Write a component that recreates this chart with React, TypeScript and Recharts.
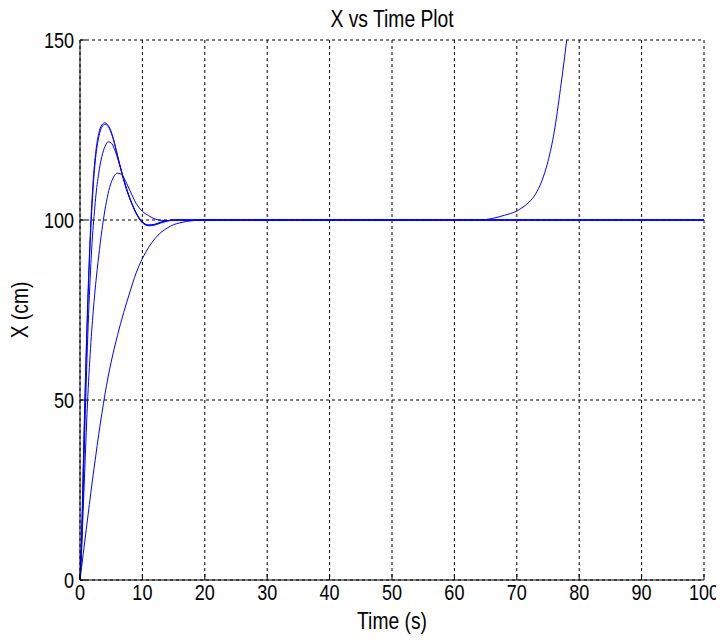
import React from 'react';
import { LineChart, Line, XAxis, YAxis, CartesianGrid } from 'recharts';

const times = [0, 0.25, 0.5, 0.75, 1, 1.25, 1.5, 1.75, 2, 2.25, 2.5, 3, 3.5, 4, 4.5, 5, 5.5, 6, 6.5, 7, 7.5, 8, 9, 10, 11, 12, 13, 14, 15, 16, 17, 18, 20, 25, 30, 40, 50, 60, 64, 65, 66, 67, 68, 69, 70, 71, 72, 73, 74, 75, 76, 77, 78, 79, 80, 90, 100];

const seriesA = [0, 12, 30, 48, 64, 78, 90, 100, 108, 114, 118.5, 124, 126.4, 127, 126.3, 124.5, 121.6, 118, 114.6, 111.3, 108.4, 106, 102, 99.5, 98.6, 98.8, 99.4, 99.8, 100, 100, 100, 100, 100, 100, 100, 100, 100, 100, 100, 100, 100, 100, 100, 100, 100, 100, 100, 100, 100, 100, 100, 100, 100, 100, 100, 100, 100];

const seriesB = [0, 9, 24, 40, 55, 68, 79, 88, 95.5, 101, 106, 113, 117.6, 120.4, 121.7, 121.4, 119.8, 117.3, 114.4, 111.4, 108.5, 106, 101.8, 99.2, 98.4, 98.6, 99.2, 99.7, 100, 100, 100, 100, 100, 100, 100, 100, 100, 100, 100, 100, 100, 100, 100, 100, 100, 100, 100, 100, 100, 100, 100, 100, 100, 100, 100, 100, 100];

const seriesC = [0, 8, 19, 30, 41, 51, 59, 66, 72, 77.3, 82, 90, 97, 102.8, 107.3, 110.4, 112.3, 113, 112.8, 111.8, 110.1, 108.2, 104.6, 102.4, 101.2, 100.3, 99.9, 99.8, 99.9, 100, 100, 100, 100, 100, 100, 100, 100, 100, 100, 100, 100, 100, 100, 100, 100, 100, 100, 100, 100, 100, 100, 100, 100, 100, 100, 100, 100];

const seriesSlow = [0, 3.5, 7, 10.5, 14, 17.5, 21, 24.4, 27.8, 31, 34.2, 40.4, 46.2, 51.6, 56.4, 60.6, 64.4, 67.9, 71.2, 74.3, 77.2, 80, 85.3, 89.3, 92.4, 94.8, 96.6, 97.8, 98.7, 99.2, 99.6, 99.8, 100, 100, 100, 100, 100, 100, 100, 100, 100, 100, 100, 100, 100, 100, 100, 100, 100, 100, 100, 100, 100, 100, 100, 100, 100];

const seriesUnstable = [0, 11, 28, 46, 62, 76, 88, 98, 106, 112.5, 117.2, 123, 125.8, 126.6, 126, 124.2, 121.4, 117.8, 114.4, 111.1, 108.2, 105.8, 101.9, 99.4, 98.6, 98.8, 99.4, 99.8, 100, 100, 100, 100, 100, 100, 100, 100, 100, 100, 100, 100.1, 100.4, 100.8, 101.3, 101.8, 102.5, 103.6, 105, 107.2, 110.8, 116.3, 124.5, 136.5, 150, 165, null, null, null];

const xTicks = [0, 10, 20, 30, 40, 50, 60, 70, 80, 90, 100];
const yTicks = [0, 50, 100, 150];

const rows = times.map((t, i) => ({
  t,
  a: seriesA[i],
  b: seriesB[i],
  c: seriesC[i],
  slow: seriesSlow[i],
  u: seriesUnstable[i],
}));

const FONT = '"Liberation Sans", Arial, sans-serif';
const FS = 22;
const LFS = 23.5;
const SX = 0.82;

const XTick = (props: any) => {
  const { x, y, payload } = props;
  return (
    <g>
      <line x1={x} x2={x} y1={y - 5} y2={y - 11} stroke="#000" strokeWidth={1} />
      <text
        transform={`translate(${x} ${y + 15}) scale(${SX} 1)`}
        x={0}
        y={0}
        textAnchor="middle"
        fontSize={FS}
        fontFamily={FONT}
        fill="#000"
      >
        {payload.value}
      </text>
    </g>
  );
};

const YTick = (props: any) => {
  const { x, y, payload } = props;
  return (
    <g>
      <line x1={x + 6} x2={x + 12} y1={y} y2={y} stroke="#000" strokeWidth={1} />
      <text
        transform={`translate(${x} ${y + 8}) scale(${SX} 1)`}
        x={0}
        y={0}
        textAnchor="end"
        fontSize={FS}
        fontFamily={FONT}
        fill="#000"
      >
        {payload.value}
      </text>
    </g>
  );
};

const XLabel = (props: any) => {
  const vb = props.viewBox;
  const cx = vb.x + vb.width / 2;
  const by = vb.y + vb.height - 6;
  return (
    <text
      transform={`translate(${cx} ${by}) scale(${SX} 1)`}
      x={0}
      y={0}
      textAnchor="middle"
      fontSize={LFS}
      fontFamily={FONT}
      fill="#000"
    >
      Time (s)
    </text>
  );
};

const YLabel = (props: any) => {
  const vb = props.viewBox;
  const cx = vb.x + 12;
  const cy = vb.y + vb.height / 2;
  return (
    <text
      transform={`translate(${cx} ${cy}) rotate(-90) scale(${SX} 1)`}
      x={0}
      y={0}
      textAnchor="middle"
      dominantBaseline="central"
      fontSize={LFS}
      fontFamily={FONT}
      fill="#000"
    >
      X (cm)
    </text>
  );
};

const lineKeys = ['slow', 'c', 'b', 'a', 'u'];

export default function App() {
  return (
    <div style={{ position: 'relative', width: 716, height: 627 }}>
      <div
        style={{
          position: 'absolute',
          left: 234,
          width: 300,
          top: 0,
          textAlign: 'center',
          fontFamily: FONT,
          fontSize: LFS,
          lineHeight: 1,
          color: '#000',
        }}
      >
        <span style={{ display: 'inline-block', transform: `scaleX(${SX})`, transformOrigin: 'center', whiteSpace: 'nowrap' }}>
          X vs Time Plot
        </span>
      </div>
      <LineChart
        width={716}
        height={627}
        data={rows}
        margin={{ top: 32, right: 20, bottom: 0, left: 0 }}
        style={{ overflow: 'visible' }}
      >
        <CartesianGrid stroke="#000" strokeDasharray="3 3" strokeWidth={1} />
        <XAxis
          dataKey="t"
          type="number"
          domain={[0, 100]}
          ticks={xTicks}
          interval={0}
          height={55}
          tickSize={0}
          tickMargin={5}
          tick={XTick}
          axisLine={{ stroke: '#000', strokeWidth: 1 }}
          tickLine={false}
          label={XLabel}
        />
        <YAxis
          type="number"
          domain={[0, 150]}
          ticks={yTicks}
          interval={0}
          width={72}
          allowDataOverflow
          tickSize={0}
          tickMargin={6}
          tick={YTick}
          axisLine={{ stroke: '#000', strokeWidth: 1 }}
          tickLine={false}
          label={YLabel}
        />
        {lineKeys.map((k) => (
          <Line
            key={k}
            dataKey={k}
            type="monotone"
            stroke="#0000ff"
            strokeWidth={1}
            dot={false}
            isAnimationActive={false}
            connectNulls={false}
          />
        ))}
      </LineChart>
    </div>
  );
}
